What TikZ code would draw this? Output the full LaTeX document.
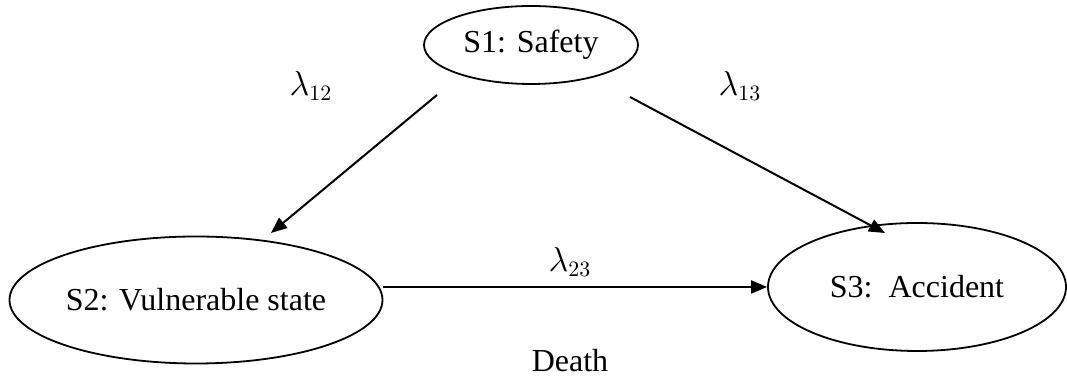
\documentclass[tikz,border=0pt]{standalone}
\usepackage{fontspec}
\setmainfont{Liberation Serif}
\usetikzlibrary{shapes.geometric,arrows.meta}
\begin{document}
\begin{tikzpicture}[x=0.5pt,y=-0.5pt,
  state/.style={ellipse,draw,line width=0.9pt,inner sep=0pt,font=\fontsize{16}{19}\selectfont},
  trans/.style={line width=1pt,-{Triangle[length=8pt,width=6.5pt]}},
  rate/.style={font=\fontsize{16}{19}\selectfont}]
\useasboundingbox (0,0) rectangle (1067,383);
% states
\node[state,minimum width=107pt,minimum height=39pt] (S1) at (531,45) {S1: Safety};
\node[state,minimum width=186.5pt,minimum height=63.5pt] (S2) at (196,300) {S2: Vulnerable state};
\node[state,minimum width=149pt,minimum height=64pt] (S3) at (917,287) {S3:\ \ Accident};
% free ends of the diagonal transitions
\coordinate (t12a) at (437,95);
\coordinate (t12b) at (271,233);
\coordinate (t13a) at (630,97);
\coordinate (t13b) at (885,233);
% transitions
\draw[trans] (t12a) -- (t12b);
\draw[trans] (t13a) -- (t13b);
\draw[trans] (S2.east |- S3.west) -- (S3.west);
% rates
\node[rate] (l12) at (311,86) {$\lambda_{12}$};
\node[rate] (l13) at (740,86) {$\lambda_{13}$};
\node[rate] (l23) at (570,262) {$\lambda_{23}$};
\node[rate] (death) at (570,361) {Death};
\end{tikzpicture}
\end{document}
